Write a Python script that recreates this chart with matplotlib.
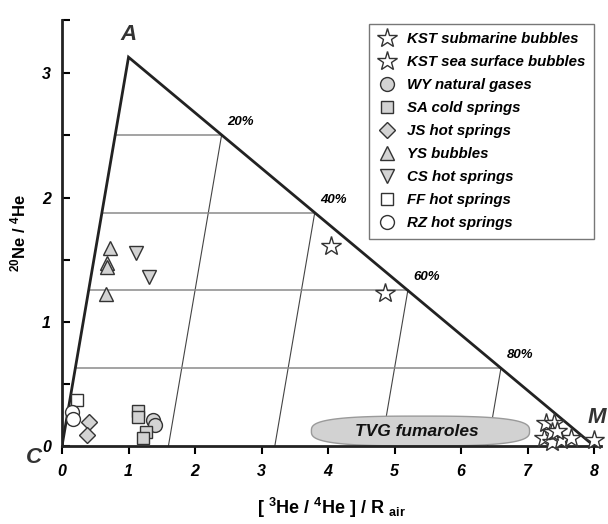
import numpy as np
import matplotlib
matplotlib.use("Agg")
import matplotlib.pyplot as plt
from matplotlib.patches import Polygon

plt.rcParams['font.family'] = ['Liberation Sans', 'DejaVu Sans']
plt.rcParams['mathtext.fontset'] = 'custom'
plt.rcParams['mathtext.rm'] = 'Liberation Sans:bold'
plt.rcParams['mathtext.it'] = 'Liberation Sans:bold:italic'
plt.rcParams['mathtext.bf'] = 'Liberation Sans:bold'

# end members (air, mantle, crust)
air = (1.0, 3.13)
mantle = (8.0, 0.0)
crust = (0.0, 0.0)
mix_levels = [0.2, 0.4, 0.6, 0.8]
mix_labels = ['20%', '40%', '60%', '80%']

# samples
kst_sub_x = [7.28, 7.40, 7.25, 7.37, 7.50, 7.66, 8.00, 7.37, 7.45]
kst_sub_y = [0.185, 0.185, 0.06, 0.03, 0.05, 0.065, 0.05, 0.11, 0.12]
kst_surf_x = [4.04, 4.86]
kst_surf_y = [1.61, 1.23]
wy_x = [1.37, 1.40]
wy_y = [0.21, 0.17]
sa_x = [1.14, 1.14, 1.27, 1.22]
sa_y = [0.28, 0.23, 0.11, 0.06]
js_x = [0.41, 0.37]
js_y = [0.19, 0.09]
ys_x = [0.72, 0.68, 0.68, 0.66]
ys_y = [1.59, 1.47, 1.44, 1.22]
cs_x = [1.11, 1.31]
cs_y = [1.55, 1.36]
ff_x = [0.22]
ff_y = [0.37]
rz_x = [0.15, 0.17]
rz_y = [0.27, 0.22]

# TVG fumaroles field extent
tvg_x = (3.75, 7.03)
tvg_y = (0.0, 0.24)

fig = plt.figure(figsize=(6.08, 5.24), dpi=100)
ax = fig.add_axes([0.102, 0.149, 0.886, 0.813])

# triangle
ax.plot([crust[0], air[0], mantle[0]], [crust[1], air[1], mantle[1]],
        color='#222222', lw=2, zorder=3, solid_joinstyle='miter')

# horizontal lines (constant air fraction) and lines parallel to C-A (constant mantle fraction)
for m, lab in zip(mix_levels, mix_labels):
    a = 1 - m
    yl = a * air[1]
    ax.plot([a * air[0], a * air[0] + m * mantle[0]], [yl, yl], color='#8a8a8a', lw=1.1, zorder=1)
    ax.plot([m * mantle[0], a * air[0] + m * mantle[0]], [0, yl], color='#444444', lw=0.8, zorder=1)
    ax.annotate(lab, (a * air[0] + m * mantle[0], yl), xytext=(4, 5), textcoords='offset points',
                ha='left', va='bottom', fontsize=9.5, fontweight='bold', style='italic')

# TVG fumaroles field
t = np.linspace(0, 2 * np.pi, 300)
n = 3.0
cx, cy = (tvg_x[0] + tvg_x[1]) / 2, (tvg_y[0] + tvg_y[1]) / 2
hw, hh = (tvg_x[1] - tvg_x[0]) / 2, (tvg_y[1] - tvg_y[0]) / 2
px = cx + hw * np.sign(np.cos(t)) * np.abs(np.cos(t)) ** (2 / n)
py = cy + hh * np.sign(np.sin(t)) * np.abs(np.sin(t)) ** (2 / n)
ax.add_patch(Polygon(np.column_stack([px, py]), closed=True, facecolor='#d2d2d2',
                     edgecolor='#9a9a9a', lw=1, zorder=2))
ax.text(cx - 0.05, cy, 'TVG fumaroles', ha='center', va='center', fontsize=12.5,
        fontweight='bold', style='italic', color='#111111', zorder=3)

grey = '#d3d3d3'
edge = '#333333'
series = [
    (kst_sub_x, kst_sub_y, '*', 'white', 15, 'KST submarine bubbles'),
    (kst_surf_x, kst_surf_y, '*', 'white', 15, 'KST sea surface bubbles'),
    (wy_x, wy_y, 'o', grey, 10, 'WY natural gases'),
    (sa_x, sa_y, 's', grey, 9, 'SA cold springs'),
    (js_x, js_y, 'D', grey, 8, 'JS hot springs'),
    (ys_x, ys_y, '^', grey, 10, 'YS bubbles'),
    (cs_x, cs_y, 'v', grey, 10, 'CS hot springs'),
    (ff_x, ff_y, 's', 'white', 9, 'FF hot springs'),
    (rz_x, rz_y, 'o', 'white', 10, 'RZ hot springs'),
]
for xs, ys, mk, fc, ms, lab in series:
    ax.plot(xs, ys, linestyle='none', marker=mk, markersize=ms, markerfacecolor=fc,
            markeredgecolor=edge, markeredgewidth=1.0, label=lab, zorder=4, clip_on=False)

leg = ax.legend(loc='upper right', bbox_to_anchor=(0.993, 0.997), frameon=True, fancybox=False,
                prop={'weight': 'bold', 'style': 'italic', 'size': 10.8}, labelspacing=0.6,
                handletextpad=0.7, borderpad=0.55, handlelength=1.3, borderaxespad=0.2)
leg.get_frame().set_edgecolor('#555555')
leg.get_frame().set_linewidth(1.0)

# end member labels
ax.annotate('A', air, xytext=(0, 9), textcoords='offset points', ha='center', va='bottom',
            fontsize=16, fontweight='bold', style='italic', color='#333333')
ax.annotate('M', mantle, xytext=(2, 13), textcoords='offset points', ha='center', va='bottom',
            fontsize=16, fontweight='bold', style='italic', color='#333333', annotation_clip=False)
ax.text(-0.42, -0.09, 'C', ha='center', va='center', fontsize=16, fontweight='bold',
        style='italic', color='#333333', clip_on=False)

ax.set_xlim(0, 8.1)
ax.set_ylim(0, 3.43)
ax.set_xticks(range(0, 9))
ax.set_yticks([0, 1, 2, 3])
ax.set_yticks([0.5, 1.5, 2.5, 3.43], minor=True)
for lab in ax.get_xticklabels() + ax.get_yticklabels():
    lab.set_fontweight('bold')
    lab.set_style('italic')
    lab.set_fontsize(11.5)
ax.tick_params(axis='x', direction='out', length=6, width=1.5, pad=7)
ax.tick_params(axis='y', which='major', direction='in', length=6, width=1.5, pad=8)
ax.tick_params(axis='y', which='minor', direction='in', length=6, width=1.5)
for s in ['top', 'right']:
    ax.spines[s].set_visible(False)
for s in ['left', 'bottom']:
    ax.spines[s].set_linewidth(2)
    ax.spines[s].set_color('#222222')

ax.set_ylabel(r'$^{20}$Ne / $^{4}$He', fontsize=12, fontweight='bold', labelpad=10)
ax.set_xlabel(r'[ $^{3}$He / $^{4}$He ] / R $_{\mathrm{air}}$', fontsize=13, fontweight='bold', labelpad=12)

fig.savefig('out.png', dpi=100)
